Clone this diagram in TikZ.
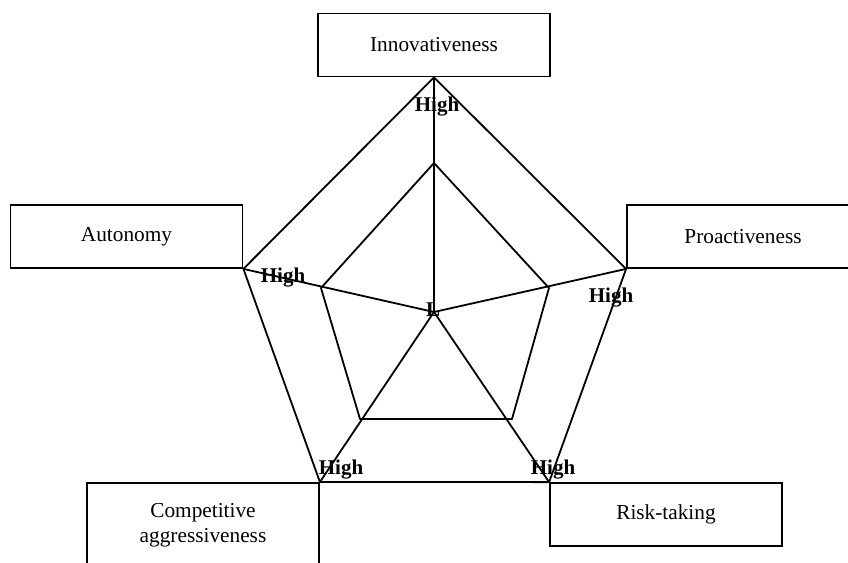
\documentclass[tikz,border=0pt]{standalone}
\usepackage{fontspec}
\setmainfont{Liberation Serif}
\usetikzlibrary{positioning}

\begin{document}
\begin{tikzpicture}[x=1pt,y=-1pt,
dimbox/.style={draw,rectangle,line width=1.8pt,minimum width=232pt,minimum height=63pt,inner sep=0pt,align=center,font=\fontsize{21.3}{25}\selectfont},
level/.style={inner sep=0pt,font=\fontsize{21}{25}\selectfont\bfseries},
spoke/.style={line width=1.8pt,line join=round}]
\useasboundingbox (0,0) rectangle (848,562);
\clip (0,0) rectangle (848,562);

\node (innov) [dimbox] at (434,45) {Innovativeness};
\node (auton) [dimbox] at (126.5,236.5) {Autonomy};
\node (proact) [dimbox] at (743,236.5) {Proactiveness};
\node (compagg) [dimbox,minimum height=85pt,anchor=north] at (203,482) {Competitive\\aggressiveness};
\node (risk) [dimbox] at (666,514.5) {Risk-taking};

\coordinate (hub) at (434,312);
\coordinate (in1) at (434,163);
\coordinate (in2) at (549,288);
\coordinate (in3) at (512,419);
\coordinate (in4) at (360,419);
\coordinate (in5) at (321,288);

\draw[spoke] (innov.south) -- (proact.south west) -- (risk.north west)
  -- (compagg.north east) -- (auton.south east) -- cycle;
\draw[spoke] (in1) -- (in2) -- (in3) -- (in4) -- (in5) -- cycle;
\foreach \tip in {innov.south,proact.south west,risk.north west,compagg.north east,auton.south east}
  \draw[spoke] (hub) -- (\tip);

\node (lowmark) [level] at (433,310) {L};
\node (hiinnov) [level] at (437,107) {High};
\node (hiauton) [level] at (283,278) {High};
\node (hiproact) [level] at (611,298) {High};
\node (hicomp) [level] at (341,470) {High};
\node (hirisk) [level] at (553,470) {High};
\end{tikzpicture}
\end{document}
